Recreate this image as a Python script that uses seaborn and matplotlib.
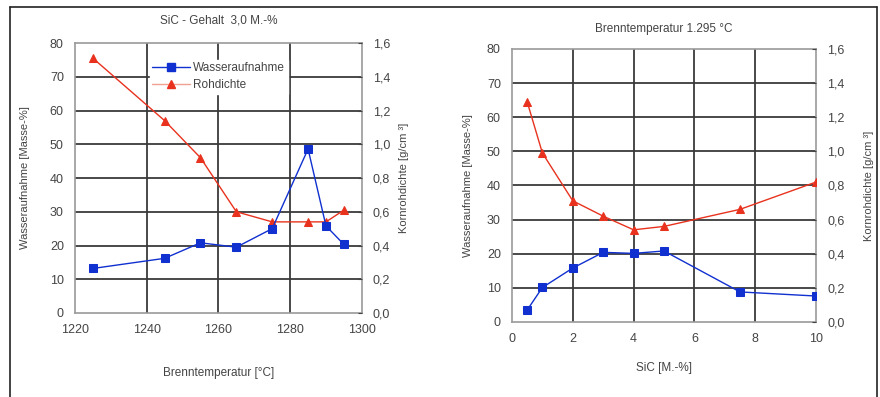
import matplotlib
matplotlib.use("Agg")
import matplotlib.pyplot as plt
from matplotlib.lines import Line2D
from matplotlib.ticker import FuncFormatter
import seaborn as sns

# Werte
temp_wa = [1225, 1245, 1255, 1265, 1275, 1285, 1290, 1295]
wasseraufnahme_t = [13.2, 16.2, 20.8, 19.5, 25.0, 48.6, 25.8, 20.3]
temp_rd = [1225, 1245, 1255, 1265, 1275, 1285, 1290, 1295]
rohdichte_t = [1.51, 1.14, 0.92, 0.60, 0.54, 0.54, 0.54, 0.61]

sic = [0.5, 1, 2, 3, 4, 5, 7.5, 10]
wasseraufnahme_s = [3.5, 10.1, 15.8, 20.4, 20.1, 20.8, 8.8, 7.6]
rohdichte_s = [1.29, 0.99, 0.71, 0.62, 0.54, 0.56, 0.66, 0.82]

BLUE = "#1030d0"
RED = "#e8321e"
GRID = "#3a3a3a"
TXT = "#444444"

sns.set_style("white")
plt.rcParams["font.family"] = ["Liberation Sans", "DejaVu Sans"]

fig = plt.figure(figsize=(8.8, 3.97), dpi=100)
ax1 = fig.add_axes([0.0852, 0.2116, 0.326, 0.680])
ax2 = fig.add_axes([0.5818, 0.189, 0.3455, 0.6877])

comma = FuncFormatter(lambda v, p: f"{v:.1f}".replace(".", ","))


def panel(ax, x_wa, wa, x_rd, rd, xlim, xticks, grid_x, xlabel, title, title_y,
          lpad_left, lpad_right, lpad_x, legend):
    ax.set_xlim(*xlim)
    ax.set_ylim(0, 80)
    ax.set_xticks(xticks)
    ax.set_yticks(range(0, 81, 10))
    for gx in grid_x:
        ax.axvline(gx, color=GRID, lw=1.3, zorder=0)
    for gy in range(10, 80, 10):
        ax.axhline(gy, color=GRID, lw=1.3, zorder=0)
    for s in ax.spines.values():
        s.set_color("#9a9a9a")
        s.set_linewidth(1.2)
    ax.tick_params(labelsize=9, colors=TXT, length=0, pad=8)
    ax.set_ylabel("Wasseraufnahme [Masse-%]", fontsize=8, color=TXT, labelpad=lpad_left)
    ax.set_xlabel(xlabel, fontsize=8.5, color=TXT, labelpad=lpad_x)
    ax.set_title(title, fontsize=8.5, color=TXT, y=title_y)

    # rechte Achse: Rohdichte
    axr = ax.twinx()
    axr.set_ylim(0, 1.6)
    axr.set_yticks([0, 0.2, 0.4, 0.6, 0.8, 1.0, 1.2, 1.4, 1.6])
    axr.yaxis.set_major_formatter(comma)
    axr.tick_params(labelsize=9, colors=TXT, length=3, direction="in", pad=8)
    for s in axr.spines.values():
        s.set_visible(False)
    axr.set_ylabel("Kornrohdichte [g/cm ³]", fontsize=8, color=TXT, labelpad=lpad_right)
    sns.lineplot(x=x_rd, y=rd, ax=axr, color=RED, marker="^", markersize=6,
                 markeredgecolor=RED, lw=1.0)
    axr.set_xlim(*xlim)

    # Wasseraufnahme oberhalb der Rohdichte zeichnen
    axw = ax.twinx()
    axw.set_ylim(0, 80)
    axw.set_yticks([])
    for s in axw.spines.values():
        s.set_visible(False)
    sns.lineplot(x=x_wa, y=wa, ax=axw, color=BLUE, marker="s", markersize=5.5,
                 markeredgecolor=BLUE, lw=1.0)
    axw.set_xlim(*xlim)
    axw.set_ylabel("")

    if legend:
        handles = [
            Line2D([], [], color=BLUE, marker="s", markersize=5.5, lw=1.0),
            Line2D([], [], color="#f2a090", marker="^", markersize=6,
                   markerfacecolor=RED, markeredgecolor=RED, lw=1.0),
        ]
        leg = axw.legend(handles, ["Wasseraufnahme", "Rohdichte"], loc="upper left",
                         bbox_to_anchor=(0.24, 0.96), fontsize=8.5, frameon=True,
                         fancybox=False, edgecolor="white", framealpha=1,
                         handlelength=3.2, borderpad=0.2, labelspacing=0.45,
                         handletextpad=0.3)
        for t in leg.get_texts():
            t.set_color(TXT)


panel(ax1, temp_wa, wasseraufnahme_t, temp_rd, rohdichte_t, (1220, 1300),
      [1220, 1240, 1260, 1280, 1300], [1240, 1260, 1280],
      "Brenntemperatur [°C]", "SiC - Gehalt  3,0 M.-%", 1.04, 14, 6, 22, True)
panel(ax2, sic, wasseraufnahme_s, sic, rohdichte_s, (0, 10),
      [0, 2, 4, 6, 8, 10], [2, 4, 6, 8],
      "SiC [M.-%]", "Brenntemperatur 1.295 °C", 1.03, 10, 14, 12, False)

# Rahmen um die ganze Abbildung
for xs, ys in [([10 / 880, 10 / 880], [0, 1 - 7 / 397]),
               ([10 / 880, 877 / 880], [1 - 7 / 397, 1 - 7 / 397]),
               ([877 / 880, 877 / 880], [0, 1 - 7 / 397])]:
    fig.add_artist(Line2D(xs, ys, color="#222222", lw=1.2, transform=fig.transFigure))

fig.savefig("out.png", dpi=100, facecolor="white")
